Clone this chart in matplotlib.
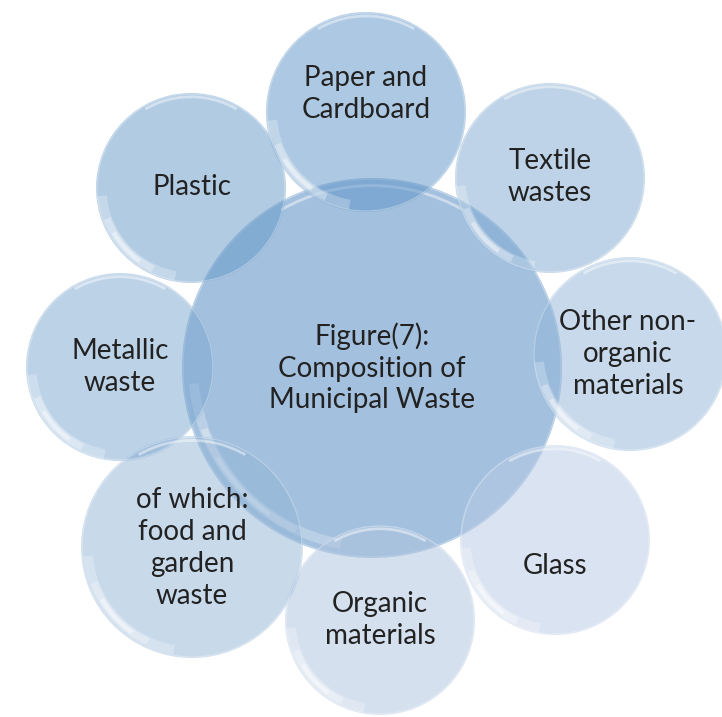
import numpy as np
import matplotlib.pyplot as plt
from matplotlib.patches import Circle, Arc

# Composition of municipal waste - bubble diagram

# labels (clockwise from top) and the centre label
labels = ["Paper and\nCardboard", "Textile\nwastes", "Other non-\norganic\nmaterials",
          "Glass", "Organic\nmaterials", "of which:\nfood and\ngarden\nwaste",
          "Metallic\nwaste", "Plastic"]
center_label = "Figure(7):\nComposition of\nMunicipal Waste"

# fill colours (drawn at alpha 0.5 over white)
colors = ["#5d93c7", "#7fa9d1", "#91b5d9", "#b7c9e5", "#adc3df", "#93b5d7",
          "#7ba7d1", "#6599c9"]
center_color = "#4985bf"

# layout in pixels: (x, y, r) of each bubble, and text centres
bubbles = [(366, 112, 100), (550, 178, 95), (630, 354, 97), (555, 540, 95),
           (380, 620, 95), (192, 547, 111), (120, 367, 94), (191, 188, 95)]
text_pos = [(366, 94), (550, 177), (628, 354), (555, 566), (380, 620),
            (192, 548), (120, 367), (192, 187)]
center_bubble = (372, 368, 190)

fig = plt.figure(figsize=(7.22, 7.17), dpi=100)
ax = fig.add_axes([0, 0, 1, 1])
ax.set_xlim(0, 722)
ax.set_ylim(717, 0)
ax.set_aspect('equal')
ax.axis('off')


def bubble(x, y, r, col, z):
    ax.add_patch(Circle((x, y), r, facecolor=col, edgecolor='none', alpha=0.5, zorder=z))
    # faint rim
    ax.add_patch(Circle((x, y), r - 1, facecolor='none', edgecolor='white',
                        lw=1, alpha=0.3, zorder=z + 0.1))
    # glossy highlights (y axis is inverted so angles run clockwise on screen)
    ax.add_patch(Arc((x, y), 2 * r * 0.96, 2 * r * 0.96, theta1=240, theta2=300,
                     color='white', lw=2, alpha=0.45, zorder=z + 0.2))
    for k, (a1, a2, lw, al) in enumerate([(100, 175, 7, 0.25), (115, 160, 5, 0.3),
                                          (125, 150, 3, 0.4)]):
        ax.add_patch(Arc((x, y), 2 * r * 0.94, 2 * r * 0.94, theta1=a1, theta2=a2,
                         color='white', lw=lw, alpha=al, zorder=z + 0.2))


bubble(*center_bubble, center_color, 1)
for i, (b, c) in enumerate(zip(bubbles, colors)):
    bubble(*b, c, 2 + i * 0.01)

font = dict(family=['Lato', 'DejaVu Sans'], fontsize=20, color='#222222',
            ha='center', va='center', linespacing=1.27, zorder=10)
for lab, (tx, ty) in zip(labels, text_pos):
    ax.text(tx, ty, lab, **font)
ax.text(center_bubble[0], center_bubble[1], center_label, **font)

fig.savefig("out.png", dpi=100)
